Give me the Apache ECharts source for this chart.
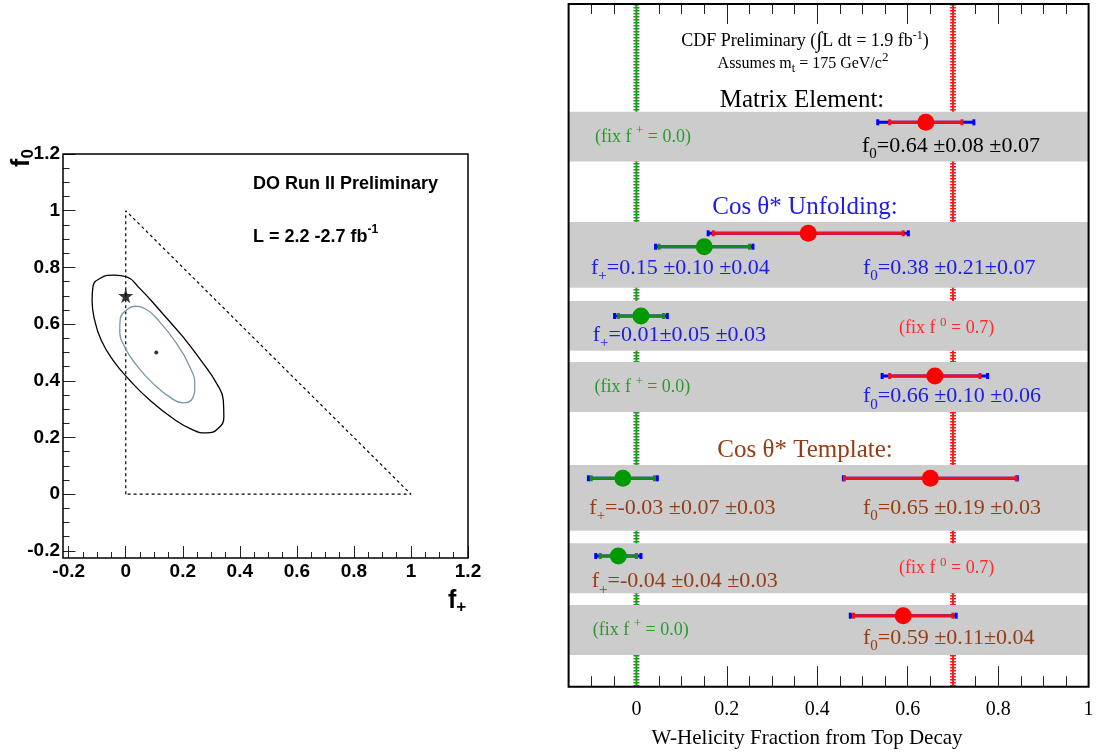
<!DOCTYPE html>
<html><head><meta charset="utf-8">
<script src="https://cdn.jsdelivr.net/npm/echarts@6/dist/echarts.min.js"></script>
<style>html,body{margin:0;padding:0;background:#fff}#c{width:1099px;height:754px}</style>
</head><body><div id="c"></div>
<script>
const SERIF = 'Liberation Serif, Times New Roman, serif';
const SANS = 'Liberation Sans, Arial, sans-serif';

// ---------------- Left panel (D0) ----------------
const leftMajorTicks = [-0.2, 0, 0.2, 0.4, 0.6, 0.8, 1, 1.2];
const leftMinorTicks = [-0.15, -0.1, -0.05, 0.05, 0.1, 0.15, 0.25, 0.3, 0.35, 0.45, 0.5, 0.55, 0.65, 0.7, 0.75, 0.85, 0.9, 0.95, 1.05, 1.1, 1.15];
const physicalBoundary = [[0, 0], [0, 1], [1, 0], [0, 0]];
const smPrediction = [[0, 0.7]];
const d0BestFit = [[0.107, 0.5]];
const contourOuter = [[0.201, 0.555], [0.272, 0.461], [0.319, 0.390], [0.342, 0.332], [0.344, 0.273], [0.324, 0.232], [0.283, 0.216], [0.237, 0.226], [0.166, 0.267], [0.084, 0.332], [0.014, 0.402], [-0.045, 0.473], [-0.086, 0.543], [-0.109, 0.614], [-0.118, 0.684], [-0.115, 0.731], [-0.091, 0.761], [-0.039, 0.773], [0.002, 0.767], [0.049, 0.726], [0.119, 0.649], [0.201, 0.555]];
const contourInner = [[0.178, 0.532], [0.225, 0.449], [0.242, 0.384], [0.234, 0.338], [0.201, 0.322], [0.161, 0.338], [0.096, 0.390], [0.038, 0.455], [-0.004, 0.520], [-0.021, 0.579], [-0.019, 0.620], [0.002, 0.649], [0.032, 0.663], [0.067, 0.655], [0.119, 0.608], [0.178, 0.532]];

// ---------------- Right panel (CDF) ----------------
const rightMajorTicks = [0, 0.2, 0.4, 0.6, 0.8, 1];
const rightMinorTicks = [-0.1, -0.05, 0.05, 0.1, 0.15, 0.25, 0.3, 0.35, 0.45, 0.5, 0.55, 0.65, 0.7, 0.75, 0.85, 0.9, 0.95];
const smRefValues = [0, 0.7];            // SM f+ and f0
const measurements = ['Matrix Element', 'Unfolding f0 & f+', 'Unfolding fix f0', 'Unfolding fix f+', 'Template f0 & f+', 'Template fix f0', 'Template fix f+'];
const f0Value = [0.64, 0.38, null, 0.66, 0.65, null, 0.59];
const f0Stat  = [0.08, 0.21, null, 0.10, 0.19, null, 0.11];
const f0Syst  = [0.07, 0.07, null, 0.06, 0.03, null, 0.04];
const fPlusValue = [null, 0.15, 0.01, null, -0.03, -0.04, null];
const fPlusStat  = [null, 0.10, 0.05, null, 0.07, 0.04, null];
const fPlusSyst  = [null, 0.04, 0.03, null, 0.03, 0.03, null];

// layout of rows (vertical position inside the right frame, 0 = top)
const rowBand = [[107.7, 157.5], [218, 283.7], [297, 346.7], [358, 408], [461, 526.7], [539.3, 589.3], [601, 651]];
const f0RowY = [118.3, 229.3, null, 372, 474.3, null, 611.7];
const fPlusRowY = [null, 242.7, 312, null, 474.3, 552, null];
const Y_MAX = 682.7;

const BLUE = '#1c1ce6', BROWN = '#963c14', GREEN_T = '#2a9a2a', RED_T = '#ff2a2a';

function buildErr(vals, stats, systs, ys) {
  const out = [];
  vals.forEach((v, i) => {
    if (v === null) return;
    out.push([v, ys[i], stats[i], Math.sqrt(stats[i] * stats[i] + systs[i] * systs[i])]);
  });
  return out;
}

function errRender(markerColor, lineColor) {
  return function (params, api) {
    const v = api.value(0), y = api.value(1), s = api.value(2), t = api.value(3);
    const c = api.coord([v, y]);
    const cy = c[1];
    const lt = api.coord([v - t, y])[0], rt = api.coord([v + t, y])[0];
    const ls = api.coord([v - s, y])[0], rs = api.coord([v + s, y])[0];
    const cap = (x, col) => ({ type: 'rect', shape: { x: x - 1.5, y: cy - 3, width: 3, height: 6 }, style: { fill: col } });
    return {
      type: 'group', children: [
        { type: 'line', shape: { x1: lt, y1: cy, x2: rt, y2: cy }, style: { stroke: '#0000ff', lineWidth: 3 } },
        { type: 'line', shape: { x1: ls, y1: cy, x2: rs, y2: cy }, style: { stroke: lineColor, lineWidth: 3 } },
        cap(lt, '#0000ff'), cap(rt, '#0000ff'), cap(ls, lineColor), cap(rs, lineColor),
        { type: 'circle', shape: { cx: c[0], cy: cy, r: 8.5 }, style: { fill: markerColor } }
      ]
    };
  };
}

const refColors = ['#1f9a1f', '#ff1a1a'];

// rich text styles
const richRow = (size) => ({
  n: { fontSize: size, fontFamily: SERIF, lineHeight: 31, verticalAlign: 'middle' },
  sb: { fontSize: 15, fontFamily: SERIF, lineHeight: 15, verticalAlign: 'bottom' }
});
const richFix = {
  n: { fontSize: 18, fontFamily: SERIF, lineHeight: 25, verticalAlign: 'middle' },
  sp: { fontSize: 13, fontFamily: SERIF, lineHeight: 13, verticalAlign: 'top' }
};

function T(x, y, text, fill, rich, align, extra) {
  const st = { text: text, fill: fill, align: align || 'left', verticalAlign: 'middle', textAlign: align || 'left', textVerticalAlign: 'middle' };
  if (rich) st.rich = rich;
  return Object.assign({ type: 'text', x: x, y: y, z: 100, style: st }, extra || {});
}
function fpText(s) { return '{n|f}{sb|+}{n|=' + s + '}'; }
function f0Text(s) { return '{n|f}{sb|0}{n|=' + s + '}'; }
const fixPlus = '{n|(fix f }{sp|+}{n| = 0.0)}';
const fixZero = '{n|(fix f }{sp|0}{n| = 0.7)}';
const RR = richRow(22);

const graphics = [
  // right frame
  { type: 'rect', z: 99, shape: { x: 568.6, y: 4, width: 520, height: 682.7 }, style: { fill: 'none', stroke: '#000', lineWidth: 2 } },
  // left frame
  { type: 'rect', z: 99, shape: { x: 63, y: 154, width: 405, height: 404 }, style: { fill: 'none', stroke: '#000', lineWidth: 1.5 } },
  // right titles
  T(805, 41.7, '{t|CDF Preliminary (}{i|∫}{t|L dt = 1.9 fb}{u|-1}{t|)}', '#000', {
    t: { fontSize: 18, fontFamily: SERIF, lineHeight: 24, verticalAlign: 'middle' },
    i: { fontSize: 22, fontFamily: SERIF, lineHeight: 24, verticalAlign: 'middle' },
    u: { fontSize: 12, fontFamily: SERIF, lineHeight: 12, verticalAlign: 'top' }
  }, 'center'),
  T(803, 63.3, '{t|Assumes m}{d|t}{t| = 175 GeV/c}{u|2}', '#000', {
    t: { fontSize: 16, fontFamily: SERIF, lineHeight: 24, verticalAlign: 'middle' },
    d: { fontSize: 12, fontFamily: SERIF, lineHeight: 12, verticalAlign: 'bottom' },
    u: { fontSize: 13, fontFamily: SERIF, lineHeight: 13, verticalAlign: 'top' }
  }, 'center'),
  T(802, 100, 'Matrix Element:', '#000', null, 'center'),
  T(805, 207, 'Cos θ* Unfolding:', BLUE, null, 'center'),
  T(805, 450, 'Cos θ* Template:', BROWN, null, 'center'),
  T(807, 738.3, 'W-Helicity Fraction from Top Decay', '#000', null, 'center'),
  // row labels
  T(595, 137, fixPlus, GREEN_T, richFix),
  T(862, 146, f0Text('0.64 ±0.08 ±0.07'), '#000', RR),
  T(591, 268.3, fpText('0.15 ±0.10 ±0.04'), BLUE, RR),
  T(863, 268.3, f0Text('0.38 ±0.21±0.07'), BLUE, RR),
  T(592.7, 335, fpText('0.01±0.05 ±0.03'), BLUE, RR),
  T(899, 328.3, fixZero, RED_T, richFix),
  T(594.4, 387.7, fixPlus, GREEN_T, richFix),
  T(863, 396.7, f0Text('0.66 ±0.10 ±0.06'), BLUE, RR),
  T(589.3, 508.3, fpText('-0.03 ±0.07 ±0.03'), BROWN, RR),
  T(863, 508.3, f0Text('0.65 ±0.19 ±0.03'), BROWN, RR),
  T(591.7, 581.7, fpText('-0.04 ±0.04 ±0.03'), BROWN, RR),
  T(899, 568.3, fixZero, RED_T, richFix),
  T(592.7, 630, fixPlus, GREEN_T, richFix),
  T(863, 638.3, f0Text('0.59 ±0.11±0.04'), BROWN, RR),
  // left texts
  T(253, 184, 'DO Run II Preliminary', '#000', null, 'left'),
  T(253, 237, '{b|L = 2.2 -2.7 fb}{u|-1}', '#000', {
    b: { fontSize: 18, fontWeight: 'bold', fontFamily: SANS, lineHeight: 26, verticalAlign: 'middle' },
    u: { fontSize: 12, fontWeight: 'bold', fontFamily: SANS, lineHeight: 12, verticalAlign: 'top' }
  }),
  T(22, 158, '{b|f}{d|0}', '#000', {
    b: { fontSize: 25, fontWeight: 'bold', fontFamily: SANS, lineHeight: 30, verticalAlign: 'middle' },
    d: { fontSize: 17, fontWeight: 'bold', fontFamily: SANS, lineHeight: 17, verticalAlign: 'bottom' }
  }, 'center', { rotation: Math.PI / 2 }),
  T(448, 601, '{b|f}{d|+}', '#000', {
    b: { fontSize: 25, fontWeight: 'bold', fontFamily: SANS, lineHeight: 30, verticalAlign: 'middle' },
    d: { fontSize: 17, fontWeight: 'bold', fontFamily: SANS, lineHeight: 17, verticalAlign: 'bottom' }
  })
];
graphics.forEach(g => {
  if (g.type !== 'text' || g.style.rich) return;
  const t = g.style.text;
  if (t === 'DO Run II Preliminary') { g.style.font = 'bold 18px ' + SANS; }
  else if (t.indexOf('W-Helicity') === 0) { g.style.font = '21px ' + SERIF; }
  else { g.style.font = '25px ' + SERIF; }
});

const tickStyle = { color: '#222', width: 1 };
function axisBase(grid, min, max, extra) {
  return Object.assign({ gridIndex: grid, type: 'value', min: min, max: max, splitLine: { show: false }, axisLine: { show: false, onZero: false } }, extra);
}

const option = {
  animation: false,
  backgroundColor: '#fff',
  grid: [
    { left: 63, top: 154, width: 405, height: 404, show: false },
    { left: 568.6, top: 4, width: 520, height: 682.7, show: false }
  ],
  xAxis: [
    axisBase(0, -0.22, 1.2, { position: 'bottom',
      axisTick: { show: true, inside: true, length: 12, customValues: leftMajorTicks, lineStyle: tickStyle },
      axisLabel: { show: true, customValues: leftMajorTicks, fontSize: 19, fontWeight: 'bold', fontFamily: SANS, color: '#000', margin: 4 } }),
    axisBase(0, -0.22, 1.2, { position: 'bottom',
      axisTick: { show: true, inside: true, length: 6, customValues: leftMinorTicks, lineStyle: tickStyle },
      axisLabel: { show: false } }),
    axisBase(1, -0.15, 1, { position: 'bottom',
      axisTick: { show: true, inside: true, length: 20.5, customValues: rightMajorTicks, lineStyle: tickStyle },
      axisLabel: { show: true, customValues: rightMajorTicks, fontSize: 20, fontFamily: SERIF, color: '#000', margin: 13 } }),
    axisBase(1, -0.15, 1, { position: 'bottom',
      axisTick: { show: true, inside: true, length: 10.5, customValues: rightMinorTicks, lineStyle: tickStyle },
      axisLabel: { show: false } }),
    axisBase(1, -0.15, 1, { position: 'top',
      axisTick: { show: true, inside: true, length: 20, customValues: rightMajorTicks, lineStyle: tickStyle },
      axisLabel: { show: false } }),
    axisBase(1, -0.15, 1, { position: 'top',
      axisTick: { show: true, inside: true, length: 10, customValues: rightMinorTicks, lineStyle: tickStyle },
      axisLabel: { show: false } })
  ],
  yAxis: [
    axisBase(0, -0.225, 1.2, { position: 'left',
      axisTick: { show: true, inside: true, length: 12.5, customValues: leftMajorTicks, lineStyle: tickStyle },
      axisLabel: { show: true, customValues: leftMajorTicks, fontSize: 19, fontWeight: 'bold', fontFamily: SANS, color: '#000', margin: 3 } }),
    axisBase(0, -0.225, 1.2, { position: 'left',
      axisTick: { show: true, inside: true, length: 6.5, customValues: leftMinorTicks, lineStyle: tickStyle },
      axisLabel: { show: false } }),
    axisBase(1, 0, Y_MAX, { inverse: true, show: false })
  ],
  series: [
    { type: 'line', xAxisIndex: 0, yAxisIndex: 0, data: physicalBoundary, symbol: 'none',
      lineStyle: { color: '#000', width: 1.2, type: [3, 3] }, z: 3 },
    { type: 'line', xAxisIndex: 0, yAxisIndex: 0, data: contourOuter, symbol: 'none', smooth: 0.5,
      lineStyle: { color: '#000', width: 1.3 }, z: 4 },
    { type: 'line', xAxisIndex: 0, yAxisIndex: 0, data: contourInner, symbol: 'none', smooth: 0.5,
      lineStyle: { color: '#7896a8', width: 1.3 }, z: 4 },
    { type: 'scatter', xAxisIndex: 0, yAxisIndex: 0, data: smPrediction, symbolSize: 15,
      symbol: 'path://M50,0 L61,35 L98,35 L68,57 L79,91 L50,70 L21,91 L32,57 L2,35 L39,35 Z',
      itemStyle: { color: '#000' }, z: 5 },
    { type: 'scatter', xAxisIndex: 0, yAxisIndex: 0, data: d0BestFit, symbolSize: 4,
      itemStyle: { color: '#000' }, z: 5 },
    // SM reference hatched lines
    { type: 'custom', xAxisIndex: 2, yAxisIndex: 2, z: 1, data: smRefValues.map(v => [v, 0]),
      renderItem: function (params, api) {
        const x = api.value(0);
        const p1 = api.coord([x, 0]), p2 = api.coord([x, Y_MAX]);
        const col = refColors[params.dataIndex];
        return { type: 'group', children: [
          { type: 'line', shape: { x1: p1[0], y1: p1[1], x2: p2[0], y2: p2[1] }, style: { stroke: col, lineWidth: 2 } },
          { type: 'line', shape: { x1: p1[0], y1: p1[1], x2: p2[0], y2: p2[1] }, style: { stroke: col, lineWidth: 6, lineDash: [1.5, 1.5] } }
        ] };
      } },
    // grey bands
    { type: 'custom', xAxisIndex: 2, yAxisIndex: 2, z: 2, data: rowBand.map(b => [b[0], b[1]]),
      renderItem: function (params, api) {
        const p1 = api.coord([-0.15, api.value(0)]), p2 = api.coord([1, api.value(1)]);
        return { type: 'rect', shape: { x: p1[0], y: p1[1], width: p2[0] - p1[0], height: p2[1] - p1[1] }, style: { fill: '#cccccc' } };
      } },
    { type: 'custom', name: 'f0', xAxisIndex: 2, yAxisIndex: 2, z: 3,
      data: buildErr(f0Value, f0Stat, f0Syst, f0RowY), renderItem: errRender('#ff0000', '#f01020') },
    { type: 'custom', name: 'f+', xAxisIndex: 2, yAxisIndex: 2, z: 3,
      data: buildErr(fPlusValue, fPlusStat, fPlusSyst, fPlusRowY), renderItem: errRender('#009a00', '#1a8a1a') }
  ],
  graphic: { elements: graphics }
};

const chart = echarts.init(document.getElementById('c'), null, { renderer: 'canvas' });
chart.setOption(option);
</script>
</body></html>
